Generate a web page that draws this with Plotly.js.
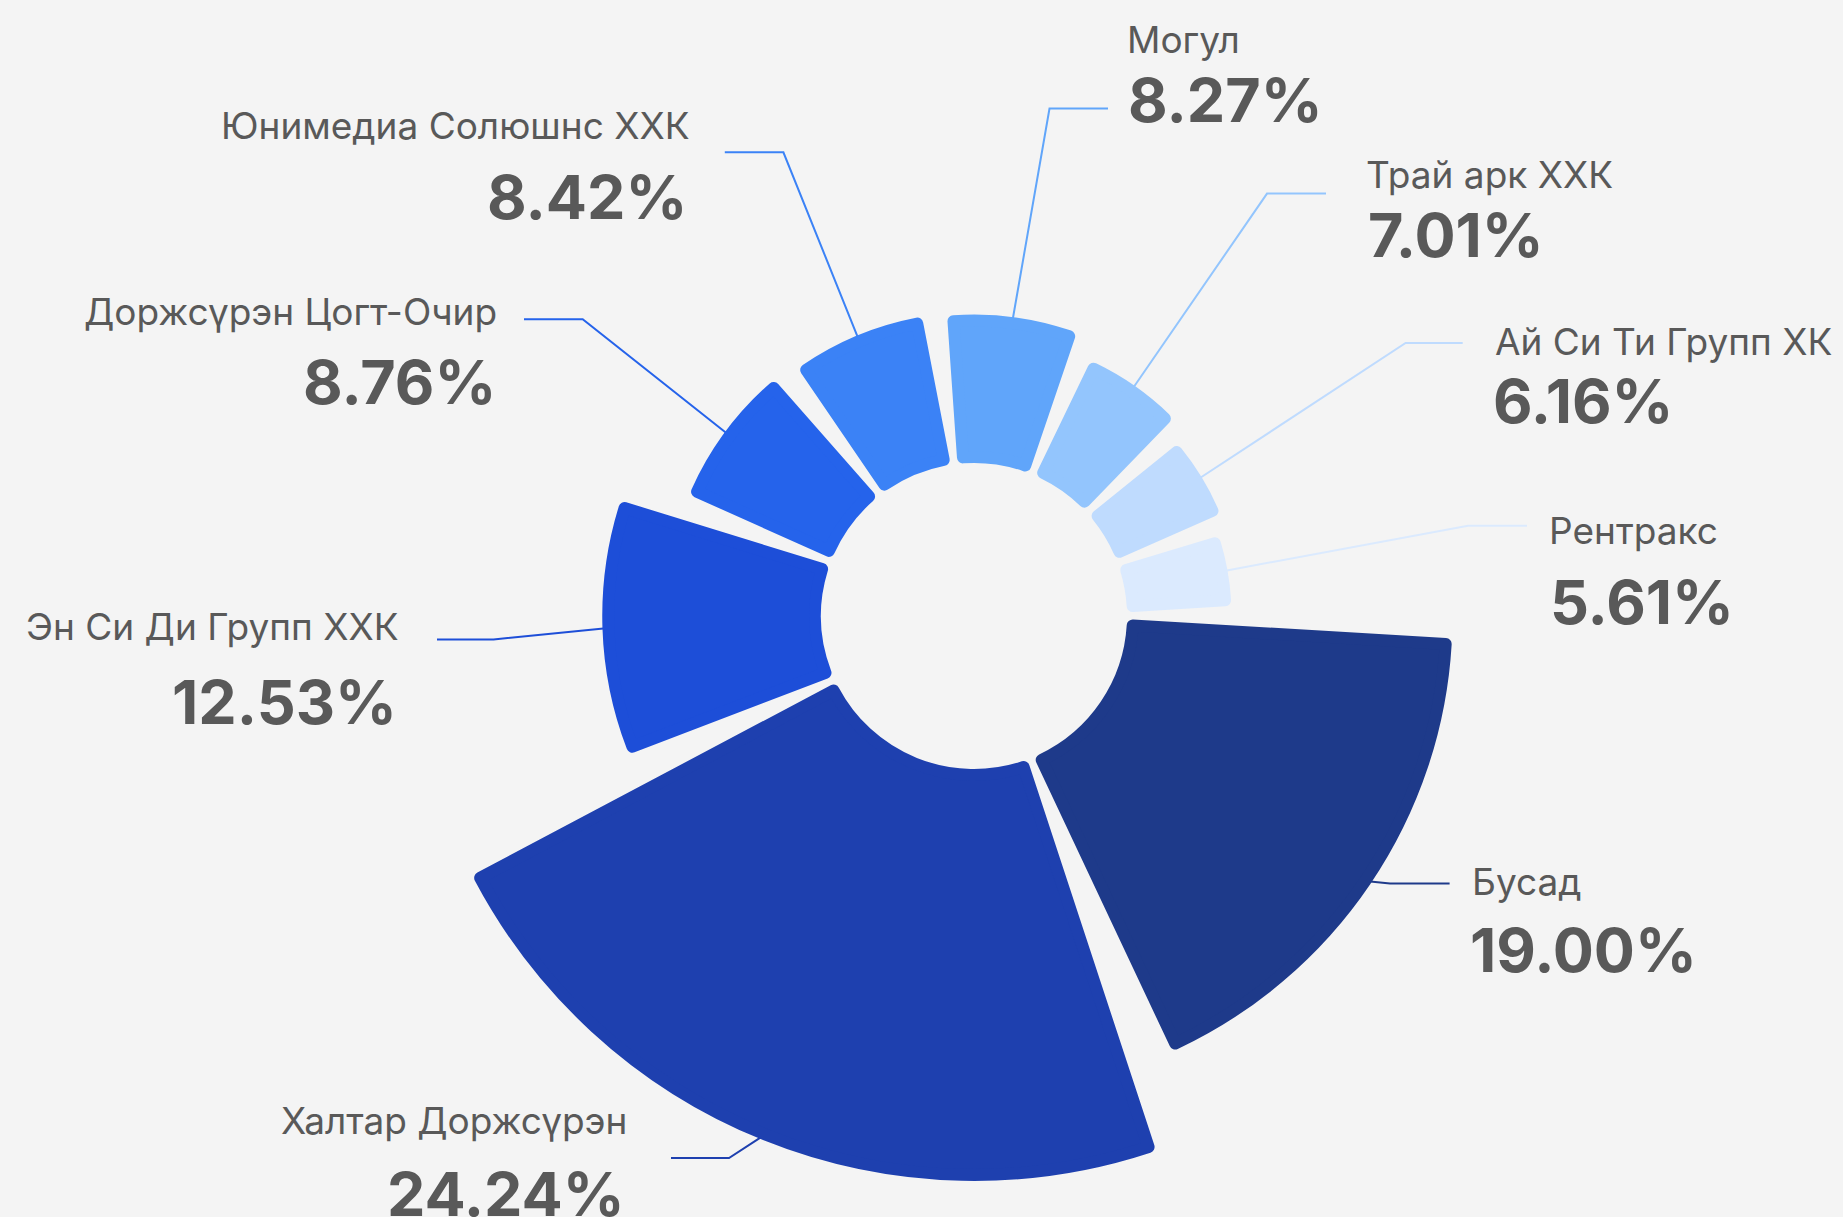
<!DOCTYPE html>
<html>
<head>
<meta charset="utf-8">
<script src="https://cdn.plot.ly/plotly-3.0.1.min.js"></script>
<style>
  html, body { margin: 0; padding: 0; background: #f4f4f4; }
  #chart { width: 1843px; height: 1217px; }
  .js-plotly-plot .trace.bars path { stroke-linejoin: round !important; }
</style>
</head>
<body>
<div id="chart"></div>
<script>
// ---------- data (clockwise order starting at the bottom) ----------
const companies = ["Халтар Доржсүрэн", "Эн Си Ди Групп ХХК", "Доржсүрэн Цогт-Очир", "Юнимедиа Солюшнс ХХК",
                   "Могул", "Трай арк ХХК", "Ай Си Ти Групп ХК", "Рентракс", "Бусад"];
const shares = [24.24, 12.53, 8.76, 8.42, 8.27, 7.01, 6.16, 5.61, 19.00];
const sliceColors = ["#1E40AF", "#1D4ED8", "#2563EB", "#3B82F6", "#60A5FA", "#93C5FD", "#BFDBFE", "#DBEAFE", "#1E3A8A"];

// ---------- layout constants ----------
const W = 1843, H = 1217;
const CX = 974, CY = 616;          // centre of the rose, px
const K = 16.5;                    // px per radial unit
const HOLE_PX = 159;               // inner edge of sectors, px
const R = 576.5;                   // polar radius, px
const RMAX = R / K;                // radial range max
const BASE = HOLE_PX / K;          // inner hole expressed in radial units
const ROT = -68.3;                 // where theta = 0 sits
const GAP = 7.0;                   // angular gap between sectors, deg
const CORNER = 12;                 // stroke width used for rounded corners
const TEXT = "#595959";

// label placement, px (one entry per company, same order)
const labelPos = [
  {anchor: "right", nx: 629,  ny: 1120.5, px: 627,  py: 1193.5, ex: 729,    ey: 1158,  endX: 671},
  {anchor: "right", nx: 401,  ny: 626.5,  px: 399,  py: 701.5,  ex: 493.5,  ey: 639.5, endX: 437},
  {anchor: "right", nx: 499,  ny: 311,    px: 498,  py: 382,    ex: 582.7,  ey: 319.3, endX: 524},
  {anchor: "right", nx: 692,  ny: 125,    px: 689,  py: 197,    ex: 783.4,  ey: 152.3, endX: 724.8},
  {anchor: "left",  nx: 1125, ny: 39.5,   px: 1126, py: 100,    ex: 1049.5, ey: 108.6, endX: 1108},
  {anchor: "left",  nx: 1364, ny: 174.5,  px: 1366, py: 234.5,  ex: 1267,   ey: 193.6, endX: 1326},
  {anchor: "left",  nx: 1493, ny: 341.5,  px: 1491, py: 401,    ex: 1405.6, ey: 343,   endX: 1462.7},
  {anchor: "left",  nx: 1547, ny: 530.5,  px: 1548, py: 601.5,  ex: 1468,   ey: 525.7, endX: 1527},
  {anchor: "left",  nx: 1470, ny: 881.5,  px: 1468, py: 950,    ex: 1390,   ey: 883.5, endX: 1449.6}
];

// ---------- derived from data ----------
const total = shares.reduce((a, b) => a + b, 0);
const mids = [], widths = [];
let acc = 0;
shares.forEach(v => {
  const span = v / total * 360;
  mids.push(acc + span / 2);
  widths.push(span - GAP);
  acc += span;
});

const fx = x => x / W;
const fy = y => 1 - y / H;

const trace = {
  type: "barpolar",
  r: shares,
  theta: mids,
  width: widths,
  base: BASE,
  marker: {color: sliceColors, line: {color: sliceColors, width: CORNER}},
  hoverinfo: "skip",
  showlegend: false
};

const annotations = [];
const shapes = [];
companies.forEach((name, i) => {
  const L = labelPos[i];
  annotations.push({
    xref: "paper", yref: "paper", x: fx(L.nx), y: fy(L.ny),
    xanchor: L.anchor, yanchor: "middle", showarrow: false,
    text: name, font: {family: "Inter, sans-serif", size: 37, color: TEXT}
  });
  annotations.push({
    xref: "paper", yref: "paper", x: fx(L.px), y: fy(L.py),
    xanchor: L.anchor, yanchor: "middle", showarrow: false,
    text: "<b>" + shares[i].toFixed(2) + "%</b>",
    font: {family: "Inter, sans-serif", size: 61, color: TEXT, weight: 700}
  });
  // leader line: starts at the sector's outer edge at its middle angle
  const ang = (ROT - mids[i]) * Math.PI / 180;
  const rpx = (BASE + shares[i]) * K;
  const ax = CX + rpx * Math.cos(ang), ay = CY - rpx * Math.sin(ang);
  shapes.push({
    type: "path", xref: "paper", yref: "paper", layer: "below",
    path: `M ${fx(ax)},${fy(ay)} L ${fx(L.ex)},${fy(L.ey)} L ${fx(L.endX)},${fy(L.ey)}`,
    line: {color: sliceColors[i], width: 2}
  });
});

const layout = {
  width: W, height: H,
  margin: {l: 0, r: 0, t: 0, b: 0},
  paper_bgcolor: "#f4f4f4",
  plot_bgcolor: "#f4f4f4",
  showlegend: false,
  polar: {
    domain: {x: [fx(CX - R), fx(CX + R)], y: [fy(CY + R), fy(CY - R)]},
    bgcolor: "rgba(0,0,0,0)",
    hole: 0,
    radialaxis: {range: [0, RMAX], visible: false, showgrid: false, showline: false},
    angularaxis: {visible: false, rotation: ROT, direction: "clockwise", showgrid: false, showline: false}
  },
  annotations: annotations,
  shapes: shapes
};

Plotly.newPlot("chart", [trace], layout, {displayModeBar: false, staticPlot: true});
</script>
</body>
</html>
